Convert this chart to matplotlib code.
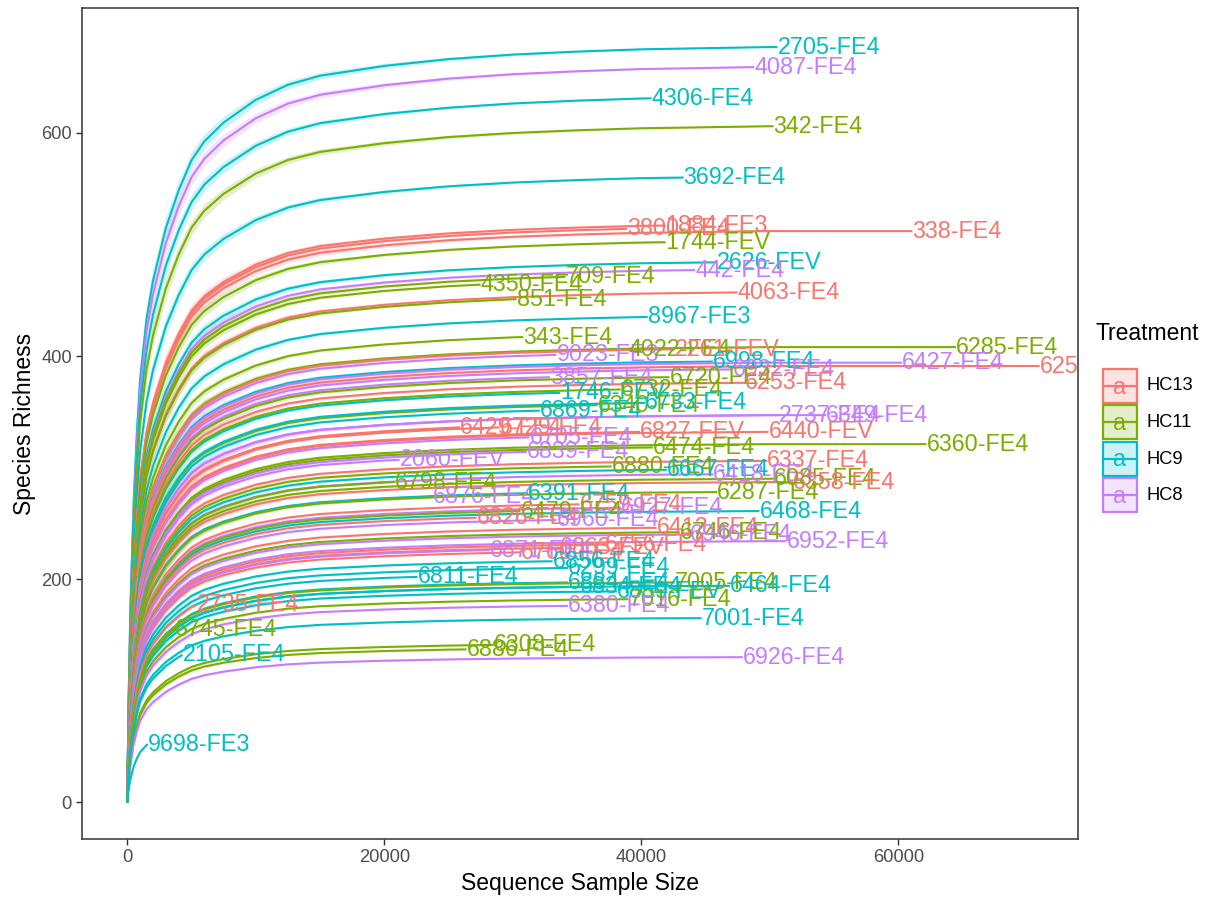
import numpy as np
import matplotlib
matplotlib.use("Agg")
import matplotlib.pyplot as plt
from matplotlib import font_manager
from matplotlib.patches import Rectangle
from matplotlib.lines import Line2D
from matplotlib.colors import to_rgba

# ---------------------------------------------------------------- data
treatments = ["HC13", "HC11", "HC9", "HC8"]
treatment_colors = ["#F8766D", "#7CAE00", "#00BFC4", "#C77CFF"]

sample_names = [
    "2705-FE4", "4087-FE4", "4306-FE4", "342-FE4", "3692-FE4", "3800-FE4",
    "1884-FE3", "338-FE4", "1744-FEV", "2626-FEV", "442-FE4", "709-FE4",
    "4350-FE4", "4063-FE4", "851-FE4", "8967-FE3", "343-FE4", "6285-FE4",
    "9023-FE3", "4022-FE4", "2261-FEV", "6998-FE4", "6932-FE4", "6427-FE4",
    "3857-FE4", "6720-FE4", "6253-FE4", "6251-FE4", "1746-FEV", "6732-FE4",
    "6869-FE4", "6340-FE4", "6733-FE4", "2737-FE4", "6349-FE4", "6429-FE4",
    "6729-FE4", "6827-FEV", "6440-FEV", "6705-FE4", "6360-FE4", "6474-FE4",
    "6839-FE4", "2060-FEV", "6337-FE4", "6880-FE4", "6667-FE4", "6418-FE4",
    "6085-FE4", "6358-FE4", "6798-FE4", "6876-FE4", "6391-FE4", "6287-FE4",
    "6468-FE4", "6759-FE4", "6927-FE4", "6479-FE4", "6826-FE4", "6960-FE4",
    "6412-FE4", "6746-FE4", "6946-FE4", "6952-FE4", "6760-FE4", "6756-FE4",
    "6863-FEV", "6871-FE4", "6856-FE4", "6299-FE4", "6811-FE4", "6884-FE4",
    "6834-FE4", "7005-FE4", "6464-FE4", "6859-FEV", "7016-FE4", "6380-FE4",
    "7001-FE4", "6308-FE4", "6886-FE4", "6926-FE4", "2735-FE4", "6745-FE4",
    "2105-FE4", "9698-FE3",
]
sample_treatment = [
    "HC9", "HC8", "HC9", "HC11", "HC9", "HC13",
    "HC13", "HC13", "HC11", "HC9", "HC8", "HC11",
    "HC11", "HC13", "HC11", "HC9", "HC11", "HC11",
    "HC8", "HC11", "HC13", "HC9", "HC8", "HC8",
    "HC8", "HC11", "HC13", "HC13", "HC9", "HC11",
    "HC9", "HC11", "HC9", "HC8", "HC8", "HC13",
    "HC13", "HC13", "HC13", "HC8", "HC11", "HC11",
    "HC8", "HC8", "HC13", "HC11", "HC9", "HC8",
    "HC11", "HC13", "HC11", "HC8", "HC9", "HC11",
    "HC9", "HC13", "HC8", "HC11", "HC13", "HC8",
    "HC13", "HC11", "HC8", "HC8", "HC13", "HC13",
    "HC13", "HC8", "HC9", "HC9", "HC9", "HC9",
    "HC9", "HC11", "HC9", "HC9", "HC11", "HC8",
    "HC9", "HC11", "HC11", "HC8", "HC13", "HC11",
    "HC9", "HC9",
]
# sequencing depth of each sample (end of its curve)
sample_depth = [
    50600, 48800, 40800, 50300, 43300, 38900,
    41900, 61100, 41900, 45900, 44200, 34100,
    27500, 47500, 30300, 40500, 30800, 64500,
    33400, 39000, 42600, 45600, 47100, 60300,
    32900, 42200, 48100, 71000, 33700, 38400,
    32100, 36600, 40300, 50700, 54400, 25900,
    29000, 39900, 49900, 31300, 62200, 40900,
    31100, 21200, 49800, 37700, 42000, 45600,
    50300, 51800, 20800, 23800, 31200, 45900,
    49200, 35200, 38400, 30600, 27200, 33400,
    41200, 43000, 43800, 51300, 30600, 37200,
    33700, 28200, 33100, 34300, 22600, 34300,
    35200, 42600, 46900, 38100, 39000, 34300,
    44700, 28500, 26400, 47900, 5400, 3700,
    4300, 1600,
]
# observed richness at full depth
sample_richness = [
    677, 659, 631, 606, 560, 514,
    517, 512, 502, 484, 477, 471,
    464, 457, 451, 435, 417, 408,
    401, 406, 406, 395, 388, 394,
    381, 381, 376, 391, 367, 370,
    351, 356, 358, 347, 347, 336,
    336, 332, 332, 327, 321, 318,
    314, 307, 306, 301, 298, 294,
    290, 287, 287, 274, 277, 278,
    261, 267, 264, 261, 255, 253,
    246, 242, 240, 234, 224, 231,
    228, 226, 216, 210, 202, 197,
    193, 197, 194, 189, 182, 176,
    165, 141, 137, 130, 177, 155,
    132, 52,
]

# share of the final richness reached at a given depth (rarefaction shape)
profile_depth = [0, 100, 250, 500, 750, 1000, 1500, 2000, 3000, 4000, 5000,
                 6000, 7500, 10000, 12500, 15000, 20000, 25000, 30000, 35000,
                 40000, 50000, 75000]
profile_share = [0.0, 0.13, 0.26, 0.40, 0.49, 0.56, 0.64, 0.69, 0.76, 0.81,
                 0.85, 0.875, 0.90, 0.93, 0.95, 0.962, 0.975, 0.984, 0.99,
                 0.994, 0.997, 1.0, 1.0]

# ---------------------------------------------------------------- style
available = {f.name for f in font_manager.fontManager.ttflist}
base_font = "Liberation Sans" if "Liberation Sans" in available else "DejaVu Sans"
plt.rcParams["font.family"] = [base_font, "DejaVu Sans"]

W, H = 1209, 897
fig = plt.figure(figsize=(W / 100, H / 100), dpi=100)
ax = fig.add_axes([82 / W, 1 - 839 / H, (1077.5 - 82) / W, (839 - 8) / H])

color_of = dict(zip(treatments, treatment_colors))
p_depth = np.array(profile_depth, dtype=float)
p_share = np.array(profile_share, dtype=float)

for name, grp, depth, rich in zip(sample_names, sample_treatment,
                                  sample_depth, sample_richness):
    col = color_of[grp]
    share_end = np.interp(depth, p_depth, p_share)
    keep = p_depth < depth
    shares = np.append(p_share[keep], share_end)
    xs = np.append(p_depth[keep], depth)
    ys = shares * rich / share_end
    # confidence band: widest on the steep part, closing at full depth
    band = 0.07 * ys * (1 - shares) * (1 - xs / depth) + 0.004 * ys * (1 - xs / depth)
    ax.fill_between(xs, ys - band, ys + band, color=col, alpha=0.2, lw=0,
                    zorder=1)
    ax.plot(xs, ys, color=col, lw=1.5, zorder=2, solid_capstyle="butt")

for name, grp, depth, rich in zip(sample_names, sample_treatment,
                                  sample_depth, sample_richness):
    ax.text(depth, rich, name, color=color_of[grp], fontsize=16.8,
            ha="left", va="center", clip_on=True, zorder=3)

ax.set_xlim(-3520, 73950)
ax.set_ylim(-33, 712)
ax.set_xticks([0, 20000, 40000, 60000])
ax.set_xticklabels(["0", "20000", "40000", "60000"])
ax.set_yticks([0, 200, 400, 600])
for s in ax.spines.values():
    s.set_color("#333333")
    s.set_linewidth(1.1)
ax.tick_params(axis="both", colors="#333333", length=4, width=1.0,
               labelsize=13.2, labelcolor="#4D4D4D", pad=3.3)
ax.set_xlabel("Sequence Sample Size", fontsize=16.5, labelpad=4)
ax.set_ylabel("Species Richness", fontsize=16.5, labelpad=4)

# ---------------------------------------------------------------- legend
def fx(px):
    return px / W


def fy(py):
    return 1 - py / H


fig.text(fx(1096), fy(333), "Treatment", fontsize=16.5, ha="left", va="center")
key_tops = [369, 405.5, 442, 478]
key_size = 34
for top, grp, col in zip(key_tops, treatments, treatment_colors):
    mid = top + key_size / 2
    fig.add_artist(Rectangle((fx(1103), fy(top + key_size)), key_size / W,
                             key_size / H, transform=fig.transFigure,
                             facecolor=to_rgba(col, 0.2), edgecolor=col, lw=1.6))
    fig.add_artist(Line2D([fx(1103), fx(1103 + key_size)], [fy(mid), fy(mid)],
                          transform=fig.transFigure, color=col, lw=1.6))
    fig.text(fx(1103 + key_size / 2), fy(mid + 1), "a", color=col,
             fontsize=16.8, ha="center", va="center")
    fig.text(fx(1147), fy(mid), grp, fontsize=13.2, ha="left", va="center")

fig.savefig("out.png", dpi=100)
